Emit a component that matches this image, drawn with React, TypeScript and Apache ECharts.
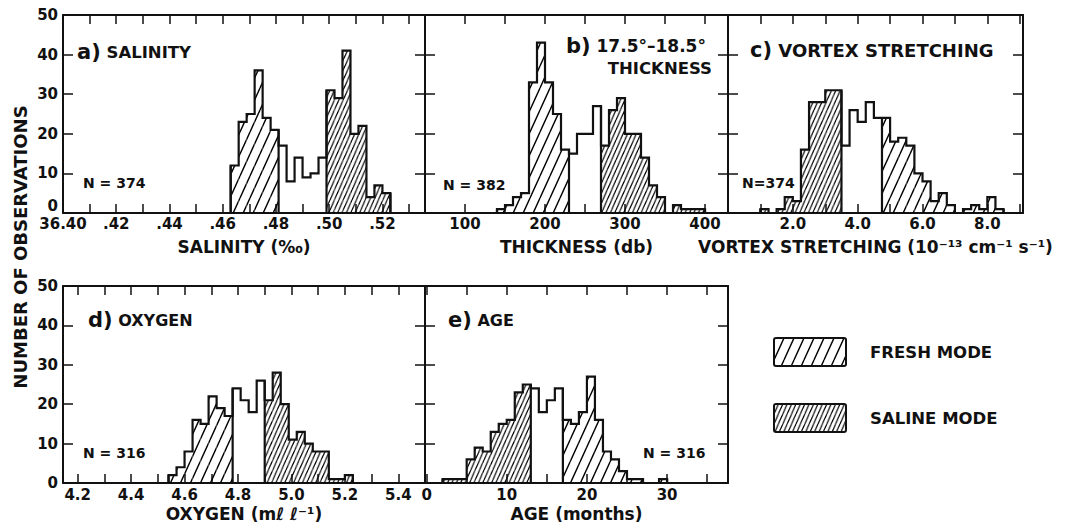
import { useEffect, useRef } from 'react';
import * as echarts from 'echarts';

// ---------------- DATA ----------------
// a) Salinity (bins of 0.003 ‰)
const salinityBinStart = 36.463;
const salinityBinWidth = 0.003;
const salinityCounts = [12, 23, 25, 36, 24, 21, 17, 8, 14, 9, 10, 14, 31, 29, 41, 20, 22, 4, 7, 5];
const salinityFresh = [36.463, 36.481];
const salinitySaline = [36.499, 36.523];
const salinityTicks = [36.40, 36.41, 36.42, 36.43, 36.44, 36.45, 36.46, 36.47, 36.48, 36.49, 36.50, 36.51, 36.52, 36.53];
const salinityLabels = [36.40, 36.42, 36.44, 36.46, 36.48, 36.50, 36.52];

// b) 17.5–18.5° thickness (bins of 10 db)
const thicknessBinStart = 140;
const thicknessBinWidth = 10;
const thicknessCounts = [1, 2, 4, 5, 33, 43, 33, 25, 16, 15, 20, 20, 27, 17, 26, 29, 20, 20, 14, 7, 4, 0, 2, 1, 1, 1];
const thicknessFresh = [140, 230];
const thicknessSaline = [270, 400];
const thicknessTicks = [100, 150, 200, 250, 300, 350, 400];
const thicknessLabels = [100, 200, 300, 400];

// c) Vortex stretching (bins of 0.25)
const vortexBinStart = 1.0;
const vortexBinWidth = 0.25;
const vortexCounts = [1, 0, 1, 4, 3, 16, 28, 28, 31, 31, 17, 26, 23, 28, 24, 24, 18, 19, 17, 10, 8, 3, 5, 2, 0, 1, 2, 1, 4, 1];
const vortexSaline = [1.0, 3.5];
const vortexFresh = [4.75, 8.5];
const vortexTicks = [1, 2, 3, 4, 5, 6, 7, 8, 9];
const vortexLabels = [2, 4, 6, 8];

// d) Oxygen (bins of 0.03 ml/l)
const oxygenBinStart = 4.54;
const oxygenBinWidth = 0.03;
const oxygenCounts = [2, 4, 8, 16, 15, 22, 19, 17, 24, 21, 18, 26, 21, 28, 20, 11, 13, 10, 8, 8, 1, 1, 2];
const oxygenFresh = [4.54, 4.78];
const oxygenSaline = [4.90, 5.23];
const oxygenTicks = [4.2, 4.3, 4.4, 4.5, 4.6, 4.7, 4.8, 4.9, 5.0, 5.1, 5.2, 5.3, 5.4];
const oxygenLabels = [4.2, 4.4, 4.6, 4.8, 5.0, 5.2, 5.4];

// e) Age (bins of 1 month)
const ageBinStart = 2;
const ageBinWidth = 1;
const ageCounts = [1, 1, 1, 6, 9, 8, 13, 15, 16, 23, 25, 24, 18, 21, 24, 16, 15, 18, 27, 16, 8, 6, 3, 1, 1, 0, 0, 1];
const ageSaline = [2, 13];
const ageFresh = [17, 30];
const ageTicks = [0, 5, 10, 15, 20, 25, 30, 35];
const ageLabels = [0, 10, 20, 30];

const yTicks = [0, 10, 20, 30, 40, 50];

// ---------------- STYLE ----------------
const FONT = 'DejaVu Sans';
const INK = '#111';

function hatch(w: number, h: number, sw: number) {
  const d = `M${-w},${h}L0,0M0,${h}L${w},0M${w},${h}L${2 * w},0`;
  const svg = `<svg xmlns='http://www.w3.org/2000/svg' width='${w}' height='${h}'><path d='${d}' stroke='black' stroke-width='${sw}' fill='none'/></svg>`;
  return {
    image: 'data:image/svg+xml;charset=utf-8,' + encodeURIComponent(svg),
    repeat: 'repeat',
    imageWidth: w,
    imageHeight: h,
  };
}

const freshPattern = hatch(10, 22, 1.4);
const salinePattern = hatch(4.4, 10, 1.15);

type Panel = {
  start: number; width: number; counts: number[];
  fresh: number[]; saline: number[];
  min: number; max: number; ticks: number[]; labels: number[];
  fmt: (v: number) => string; name: string; nameGap: number; labelMargin: number;
  grid: { left: number; top: number; width: number; height: number };
  yLabels: boolean; zeroBottom?: boolean;
};

const panels: Panel[] = [
  {
    start: salinityBinStart, width: salinityBinWidth, counts: salinityCounts,
    fresh: salinityFresh, saline: salinitySaline, min: 36.40, max: 36.536,
    ticks: salinityTicks, labels: salinityLabels,
    fmt: (v) => (Math.abs(v - 36.4) < 1e-6 ? '36.40' : '.' + Math.round((v - 36) * 100)),
    name: 'SALINITY (‰)', nameGap: 25, labelMargin: 3,
    grid: { left: 63, top: 15, width: 362, height: 198 }, yLabels: true, zeroBottom: true,
  },
  {
    start: thicknessBinStart, width: thicknessBinWidth, counts: thicknessCounts,
    fresh: thicknessFresh, saline: thicknessSaline, min: 50, max: 428.75,
    ticks: thicknessTicks, labels: thicknessLabels,
    fmt: (v) => String(Math.round(v)),
    name: 'THICKNESS (db)', nameGap: 25, labelMargin: 3,
    grid: { left: 425, top: 15, width: 303, height: 198 }, yLabels: false,
  },
  {
    start: vortexBinStart, width: vortexBinWidth, counts: vortexCounts,
    fresh: vortexFresh, saline: vortexSaline, min: 0, max: 9.1,
    ticks: vortexTicks, labels: vortexLabels,
    fmt: (v) => v.toFixed(1),
    name: 'VORTEX STRETCHING (10⁻¹³ cm⁻¹ s⁻¹)', nameGap: 25, labelMargin: 3,
    grid: { left: 728, top: 15, width: 295, height: 198 }, yLabels: false,
  },
  {
    start: oxygenBinStart, width: oxygenBinWidth, counts: oxygenCounts,
    fresh: oxygenFresh, saline: oxygenSaline, min: 4.145, max: 5.5,
    ticks: oxygenTicks, labels: oxygenLabels,
    fmt: (v) => v.toFixed(1),
    name: 'OXYGEN (mℓ ℓ⁻¹)', nameGap: 22, labelMargin: 4,
    grid: { left: 63, top: 286, width: 362, height: 197 }, yLabels: true,
  },
  {
    start: ageBinStart, width: ageBinWidth, counts: ageCounts,
    fresh: ageFresh, saline: ageSaline, min: -0.2, max: 37.6,
    ticks: ageTicks, labels: ageLabels,
    fmt: (v) => String(Math.round(v)),
    name: 'AGE (months)', nameGap: 22, labelMargin: 4,
    grid: { left: 425, top: 286, width: 303, height: 197 }, yLabels: false,
  },
];

const labelStyle = { color: INK, fontFamily: FONT, fontWeight: 'bold' as const, fontSize: 15 };

function buildOption() {
  const grid: any[] = [];
  const xAxis: any[] = [];
  const yAxis: any[] = [];
  const series: any[] = [];

  panels.forEach((p, g) => {
    grid.push({ ...p.grid, show: false, containLabel: false, outerBoundsMode: 'none' });
    const axisLine = { show: true, onZero: false, lineStyle: { color: INK, width: 2 } };
    const tickStyle = { color: INK, width: 1.5 };
    xAxis.push({
      type: 'value', gridIndex: g, position: 'bottom', min: p.min, max: p.max,
      axisLine, splitLine: { show: false },
      axisTick: { show: true, inside: true, length: 9, customValues: p.ticks, lineStyle: tickStyle },
      axisLabel: { show: true, customValues: p.labels, formatter: p.fmt, margin: p.labelMargin, ...labelStyle },
      name: p.name, nameLocation: 'middle', nameGap: p.nameGap,
      nameTextStyle: { ...labelStyle, fontSize: 17 },
    });
    xAxis.push({
      type: 'value', gridIndex: g, position: 'top', min: p.min, max: p.max,
      axisLine, splitLine: { show: false },
      axisTick: { show: true, inside: true, length: 9, customValues: p.ticks, lineStyle: tickStyle },
      axisLabel: { show: false },
    });
    yAxis.push({
      type: 'value', gridIndex: g, position: 'left', min: 0, max: 50,
      axisLine, splitLine: { show: false },
      axisTick: { show: true, inside: true, length: 10, customValues: yTicks, lineStyle: tickStyle },
      axisLabel: {
        show: p.yLabels, customValues: yTicks, margin: 5, ...labelStyle,
        ...(p.zeroBottom ? { verticalAlignMinLabel: 'bottom' } : {}),
      },
    });
    yAxis.push({
      type: 'value', gridIndex: g, position: 'right', min: 0, max: 50,
      axisLine, splitLine: { show: false },
      axisTick: { show: true, inside: true, length: 10, customValues: yTicks, lineStyle: tickStyle },
      axisLabel: { show: false },
    });

    const xi = g * 2;
    const yi = g * 2;

    // hatched fills per bin
    series.push({
      type: 'custom', xAxisIndex: xi, yAxisIndex: yi, silent: true, z: 2,
      data: p.counts.map((c, i) => [p.start + i * p.width, p.start + (i + 1) * p.width, c]),
      encode: { x: [0, 1], y: 2 },
      renderItem: (params: any, api: any) => {
        const x0 = api.value(0);
        const x1 = api.value(1);
        const c = api.value(2);
        if (!c) return null;
        const mid = (x0 + x1) / 2;
        let fill: any = null;
        if (mid > p.fresh[0] && mid < p.fresh[1]) fill = freshPattern;
        else if (mid > p.saline[0] && mid < p.saline[1]) fill = salinePattern;
        if (!fill) return null;
        const a = api.coord([x0, 0]);
        const b = api.coord([x1, c]);
        return {
          type: 'rect',
          shape: { x: a[0], y: b[1], width: b[0] - a[0], height: a[1] - b[1] },
          style: { fill, stroke: null },
        };
      },
    });

    // step outline
    const pts: number[][] = [[p.start, 0]];
    p.counts.forEach((c, i) => {
      pts.push([p.start + i * p.width, c]);
      pts.push([p.start + (i + 1) * p.width, c]);
    });
    pts.push([p.start + p.counts.length * p.width, 0]);
    series.push({
      type: 'line', xAxisIndex: xi, yAxisIndex: yi, silent: true, z: 4,
      data: pts, symbol: 'none', showSymbol: false,
      lineStyle: { color: INK, width: 2.2, join: 'miter', cap: 'square' },
    });

    // vertical lines at mode boundaries
    const bounds = [p.fresh[0], p.fresh[1], p.saline[0], p.saline[1]].map((x) => {
      const idx = Math.round((x - p.start) / p.width);
      const l = p.counts[idx - 1] ?? 0;
      const r = p.counts[idx] ?? 0;
      return [x, Math.max(l, r)];
    });
    series.push({
      type: 'custom', xAxisIndex: xi, yAxisIndex: yi, silent: true, z: 4,
      data: bounds,
      renderItem: (params: any, api: any) => {
        const a = api.coord([api.value(0), 0]);
        const b = api.coord([api.value(0), api.value(1)]);
        return {
          type: 'line',
          shape: { x1: a[0], y1: a[1], x2: b[0], y2: b[1] },
          style: { stroke: INK, lineWidth: 2.2 },
        };
      },
    });
  });

  const txt = (x: number, y: number, text: string, extra: any = {}) => ({
    type: 'text', x, y, silent: true,
    style: {
      text, fill: INK, font: `bold 16px "${FONT}"`, align: 'left', verticalAlign: 'middle', ...extra,
    },
  });
  const big = { p: { fontSize: 21, fontFamily: FONT, fontWeight: 'bold', fill: INK } };

  const graphic: any[] = [
    {
      type: 'text', x: 20, y: 247, rotation: Math.PI / 2, silent: true,
      style: { text: 'NUMBER OF OBSERVATIONS', fill: INK, font: `bold 18px "${FONT}"`, align: 'center', verticalAlign: 'middle' },
    },
    txt(77, 52, '{p|a)} SALINITY', { rich: big, font: `bold 16.5px "${FONT}"` }),
    txt(83, 183, 'N = 374', { font: `bold 14px "${FONT}"` }),
    txt(566, 46, '{p|b)} 17.5°–18.5°', { rich: big, font: `bold 17px "${FONT}"` }),
    txt(712, 68, 'THICKNESS', { align: 'right', font: `bold 16.5px "${FONT}"` }),
    txt(443, 185, 'N = 382', { font: `bold 14px "${FONT}"` }),
    txt(750, 50, '{p|c)} VORTEX STRETCHING', { rich: big, font: `bold 18px "${FONT}"` }),
    txt(742, 183, 'N=374', { font: `bold 14px "${FONT}"` }),
    txt(88, 320, '{p|d)} OXYGEN', { rich: big }),
    txt(83, 453, 'N = 316', { font: `bold 14px "${FONT}"` }),
    txt(448, 320, '{p|e)} AGE', { rich: big }),
    txt(643, 453, 'N = 316', { font: `bold 14px "${FONT}"` }),
    {
      type: 'rect', x: 774, y: 338, silent: true,
      shape: { x: 0, y: 0, width: 72, height: 28, r: 2 },
      style: { fill: freshPattern, stroke: INK, lineWidth: 2 },
    },
    {
      type: 'rect', x: 774, y: 404, silent: true,
      shape: { x: 0, y: 0, width: 72, height: 28, r: 2 },
      style: { fill: salinePattern, stroke: INK, lineWidth: 2 },
    },
    txt(870, 352, 'FRESH MODE', { font: `bold 16.5px "${FONT}"` }),
    txt(870, 418, 'SALINE MODE', { font: `bold 16.5px "${FONT}"` }),
  ];

  return {
    animation: false,
    backgroundColor: '#fff',
    grid, xAxis, yAxis, series, graphic,
  };
}

export default function App() {
  const ref = useRef<HTMLDivElement>(null);
  useEffect(() => {
    if (!ref.current) return;
    const chart = echarts.init(ref.current, null, { renderer: 'svg' });
    chart.setOption(buildOption() as any);
    return () => chart.dispose();
  }, []);
  return (
    <div
      ref={ref}
      style={{ position: 'fixed', left: 0, top: 0, width: 1079, height: 530, background: '#fff' }}
    />
  );
}
